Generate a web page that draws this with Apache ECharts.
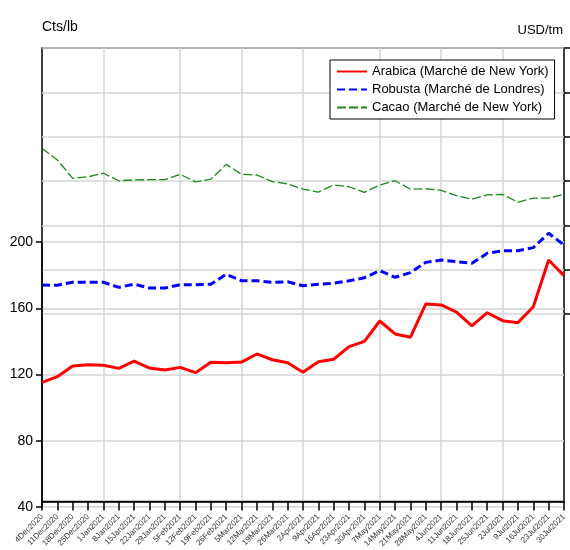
<!DOCTYPE html>
<html><head><meta charset="utf-8">
<script src="https://cdn.jsdelivr.net/npm/echarts@6/dist/echarts.min.js"></script>
<style>html,body{margin:0;padding:0;background:#fff}#c{width:570px;height:550px}</style>
</head><body><div id="c"></div>
<script>
var dates = ["4Dec2020","11Dec2020","18Dec2020","25Dec2020","1Jan2021","8Jan2021","15Jan2021","22Jan2021","29Jan2021","5Feb2021","12Feb2021","19Feb2021","26Feb2021","5Mar2021","12Mar2021","19Mar2021","26Mar2021","2Apr2021","9Apr2021","16Apr2021","23Apr2021","30Apr2021","7May2021","14May2021","21May2021","28May2021","4Jun2021","11Jun2021","18Jun2021","25Jun2021","2Jul2021","9Jul2021","16Jul2021","23Jul2021","30Jul2021"];
var monthStarts = [4, 9, 13, 17, 22, 26, 30];
var arabica = [115.3,118.7,125.1,125.9,125.6,123.7,128.1,123.9,122.7,124.3,121.1,127.4,127.1,127.5,132.4,128.9,127.1,121.3,127.7,129.2,136.8,140.0,152.3,144.5,142.5,162.6,162.0,157.6,149.3,157.3,152.5,151.3,160.9,189.1,179.7];
var robusta = [174.0,173.9,175.7,175.7,175.7,172.6,174.5,172.2,172.2,174.2,174.2,174.5,180.5,176.6,176.6,175.7,176.0,173.6,174.5,175.1,176.6,178.4,182.7,178.7,181.5,187.7,189.1,188.1,187.1,193.2,194.7,194.7,196.6,205.3,198.2];
var cacao = [2548,2495,2412,2419,2435,2401,2405,2406,2406,2430,2396,2408,2475,2430,2427,2397,2387,2363,2350,2382,2374,2349,2382,2401,2363,2365,2358,2334,2318,2337,2340,2304,2323,2323,2340];
var leftTicks = {min: 40, max: 200, step: 40};
var rightTicks = {min: 1800, max: 3000, step: 200};
var names = ["Arabica (Marché de New York)", "Robusta (Marché de Londres)", "Cacao (Marché de New York)"];

var chart = echarts.init(document.getElementById('c'));
var FONT = 'Liberation Sans, Arial, sans-serif';
var grids = [
  {left: 42, right: 6, top: 48, bottom: 43, show: true, borderColor: '#000', borderWidth: 1.5, backgroundColor: 'transparent'},
  {left: 42, right: 6, top: 242, bottom: 43},
  {left: 42, right: 6, top: 48, bottom: 236}
];
function hiddenX(i){ return {type:'category', gridIndex:i, data:dates, boundaryGap:false, show:false}; }
chart.setOption({
  animation: false,
  textStyle: {fontFamily: FONT},
  grid: grids,
  title: [
    {text: 'Cts/lb', left: 37, top: 15, textStyle: {fontSize: 14, fontWeight: 'normal', color: '#000', fontFamily: FONT}},
    {text: 'USD/tm', right: 2, top: 19, textStyle: {fontSize: 13, fontWeight: 'normal', color: '#000', fontFamily: FONT}}
  ],
  legend: {
    orient: 'vertical', left: 330, top: 60, backgroundColor: '#fff',
    borderColor: '#000', borderWidth: 1, padding: [5, 6, 5, 6], itemGap: 5,
    itemWidth: 30, itemHeight: 14,
    itemStyle: {opacity: 0},
    textStyle: {fontSize: 13, color: '#000', fontFamily: FONT},
    data: names
  },
  xAxis: [
    {type:'category', gridIndex:0, data:dates, boundaryGap:false,
     axisLine:{lineStyle:{color:'#000', width:1.5}},
     axisTick:{show:true, length:9, lineStyle:{color:'#000', width:1.5}, interval:0},
     axisLabel:{rotate:45, fontSize:8, color:'#333', interval:0, margin:14, fontFamily: FONT},
     splitLine:{show:true, interval:function(i){return monthStarts.indexOf(i) >= 0;}, lineStyle:{color:'#d4d4d4', width:1.5}}},
    hiddenX(1), hiddenX(2)
  ],
  yAxis: [
    {type:'value', gridIndex:0, show:false},
    {type:'value', gridIndex:1, min:leftTicks.min, max:leftTicks.max, interval:leftTicks.step,
     axisLine:{show:true, lineStyle:{color:'#000', width:1.5}},
     axisTick:{show:true, length:6, lineStyle:{color:'#000', width:1.5}},
     axisLabel:{fontSize:14, color:'#000', margin:9, fontFamily: FONT},
     splitLine:{show:true, lineStyle:{color:'#d4d4d4', width:1.5}}},
    {type:'value', gridIndex:2, position:'right', min:rightTicks.min, max:rightTicks.max, interval:rightTicks.step,
     axisLine:{show:false},
     axisTick:{show:true, length:6, lineStyle:{color:'#000', width:1.5}},
     axisLabel:{show:false},
     splitLine:{show:true, lineStyle:{color:'#d4d4d4', width:1.5}}}
  ],
  series: [
    {name:names[0], type:'line', xAxisIndex:1, yAxisIndex:1, data:arabica, symbol:'none', clip:false,
     lineStyle:{color:'#ff0000', width:3}, itemStyle:{color:'#ff0000'}, z:5},
    {name:names[1], type:'line', xAxisIndex:1, yAxisIndex:1, data:robusta, symbol:'none', clip:false,
     lineStyle:{color:'#0000ff', width:3, type:[8,4]}, itemStyle:{color:'#0000ff'}, z:4},
    {name:names[2], type:'line', xAxisIndex:2, yAxisIndex:2, data:cacao, symbol:'none', clip:false,
     lineStyle:{color:'#1a8a1a', width:1.3, type:[9,3]}, itemStyle:{color:'#1a8a1a'}, z:3}
  ]
});
</script></body></html>
